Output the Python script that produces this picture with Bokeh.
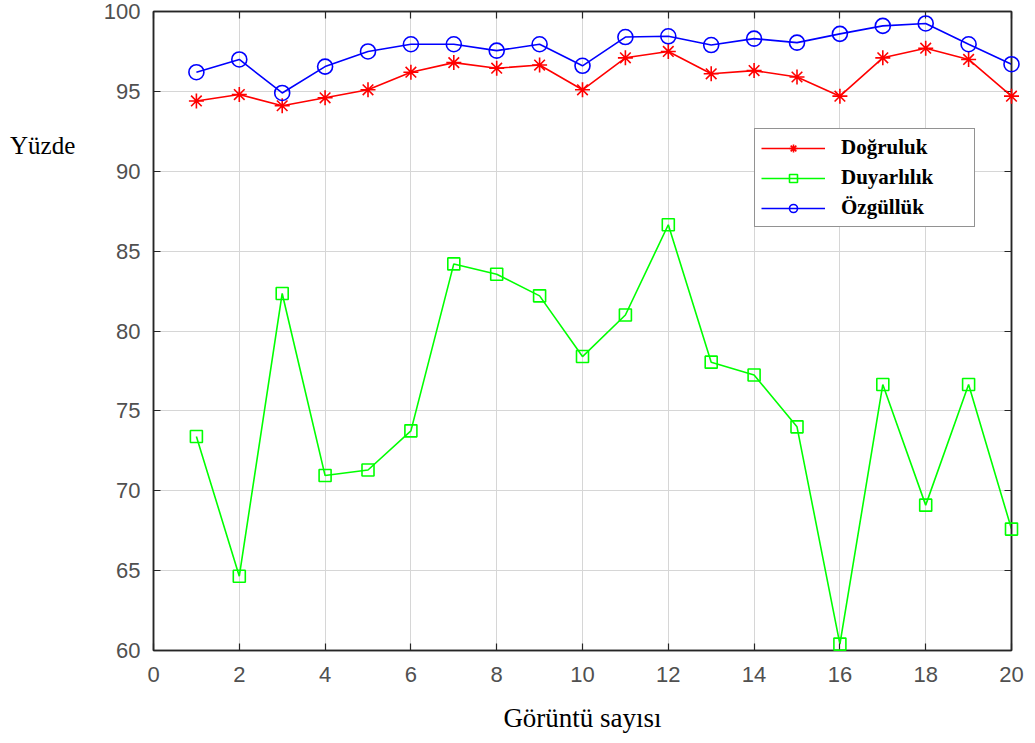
from bokeh.plotting import figure
from bokeh.models import Legend, LegendItem, LinearAxis, FixedTicker, Range1d, Div
from bokeh.layouts import row
from bokeh.embed import file_html
from bokeh.resources import INLINE

# Image count on x, percentages for the three metrics
images = list(range(1, 21))
dogruluk = [94.4, 94.8, 94.1, 94.6, 95.1, 96.2, 96.8, 96.45, 96.65, 95.1,
            97.1, 97.5, 96.1, 96.3, 95.9, 94.7, 97.1, 97.7, 97.0, 94.7]
duyarlilik = [73.4, 64.65, 82.35, 70.95, 71.3, 73.75, 84.2, 83.55, 82.2, 78.4,
              81.0, 86.65, 78.05, 77.25, 74.0, 60.4, 76.65, 69.1, 76.65, 67.6]
ozgulluk = [96.2, 97.0, 94.9, 96.55, 97.5, 97.95, 97.95, 97.55, 97.95, 96.6,
            98.4, 98.45, 97.9, 98.3, 98.05, 98.6, 99.1, 99.25, 97.95, 96.7]

x_ticks = list(range(0, 21, 2))
y_ticks = list(range(60, 101, 5))

AXIS_COLOR = "#262626"
TICK_FONT = "Liberation Sans"
SERIF = "Liberation Serif"

LEFT_W = 90  # width of the column holding the horizontal y title

p = figure(width=1035 - LEFT_W, height=743, output_backend="svg",
           toolbar_location=None,
           x_range=Range1d(0, 20), y_range=Range1d(60, 100),
           min_border_left=153 - LEFT_W, min_border_right=24,
           min_border_top=11, min_border_bottom=93)

p.background_fill_color = "white"
p.border_fill_color = "white"
p.outline_line_color = AXIS_COLOR
p.outline_line_width = 1.5

bottom_axis = p.below[0]
left_axis = p.left[0]

# box-style axes: ticks pointing inward on all four sides
top_axis = LinearAxis()
right_axis = LinearAxis()
p.add_layout(top_axis, "above")
p.add_layout(right_axis, "right")

for ax, ticks in ((bottom_axis, x_ticks), (top_axis, x_ticks),
                  (left_axis, y_ticks), (right_axis, y_ticks)):
    ax.ticker = FixedTicker(ticks=ticks)
    ax.axis_line_color = AXIS_COLOR
    ax.axis_line_width = 1.5
    ax.major_tick_in = 7
    ax.major_tick_out = 0
    ax.major_tick_line_color = AXIS_COLOR
    ax.major_tick_line_width = 1.2
    ax.minor_tick_line_color = None
    ax.major_label_text_font = TICK_FONT
    ax.major_label_text_font_size = "22px"
    ax.major_label_text_color = "#505050"

# the mirrored axes only carry ticks
for ax in (top_axis, right_axis):
    ax.major_label_text_color = None
    ax.major_label_text_font_size = "1px"
    ax.major_label_standoff = 0

bottom_axis.major_label_standoff = 16
left_axis.major_label_standoff = 13

bottom_axis.axis_label = "Görüntü sayısı"
bottom_axis.axis_label_text_font = SERIF
bottom_axis.axis_label_text_font_style = "normal"
bottom_axis.axis_label_text_font_size = "27px"
bottom_axis.axis_label_text_color = "black"
bottom_axis.axis_label_standoff = 18

p.xgrid.ticker = FixedTicker(ticks=x_ticks)
p.ygrid.ticker = FixedTicker(ticks=y_ticks)
for g in (p.xgrid[0], p.ygrid[0]):
    g.grid_line_color = "#d6d6d6"
    g.grid_line_width = 1

# series: line + marker for each metric
r1l = p.line(images, dogruluk, line_color="#ff0000", line_width=1.6)
r1m = p.scatter(images, dogruluk, marker="asterisk", size=15,
                line_color="#ff0000", line_width=1.6, level="overlay")
r2l = p.line(images, duyarlilik, line_color="#00ff00", line_width=1.6)
r2m = p.scatter(images, duyarlilik, marker="square", size=12,
                line_color="#00ff00", line_width=1.6, fill_color=None,
                level="overlay")
r3l = p.line(images, ozgulluk, line_color="#0000ff", line_width=1.6)
r3m = p.scatter(images, ozgulluk, marker="circle", size=15,
                line_color="#0000ff", line_width=1.6, fill_color=None,
                level="overlay")

legend = Legend(items=[
    LegendItem(label="Doğruluk", renderers=[r1l, r1m]),
    LegendItem(label="Duyarlılık", renderers=[r2l, r2m]),
    LegendItem(label="Özgüllük", renderers=[r3l, r3m]),
], location=(601, 423))
legend.label_text_font = SERIF
legend.label_text_font_style = "bold"
legend.label_text_font_size = "21px"
legend.label_text_color = "black"
legend.glyph_width = 64
legend.glyph_height = 20
legend.label_height = 20
legend.label_width = 127
legend.label_standoff = 16
legend.spacing = 5
legend.padding = 6
legend.margin = 0
legend.border_line_color = AXIS_COLOR
legend.border_line_width = 1.5
legend.background_fill_color = "white"
legend.background_fill_alpha = 1.0
p.add_layout(legend, "center")

# horizontal y-axis title beside the plot
ytitle = Div(text="Yüzde", width=LEFT_W - 10, height=40, margin=(132, 0, 0, 10),
             styles={"font-family": SERIF, "font-size": "25px",
                     "color": "black", "line-height": "1.15"})

layout = row(ytitle, p, spacing=0)

open("out.html", "w").write(file_html(layout, INLINE))
